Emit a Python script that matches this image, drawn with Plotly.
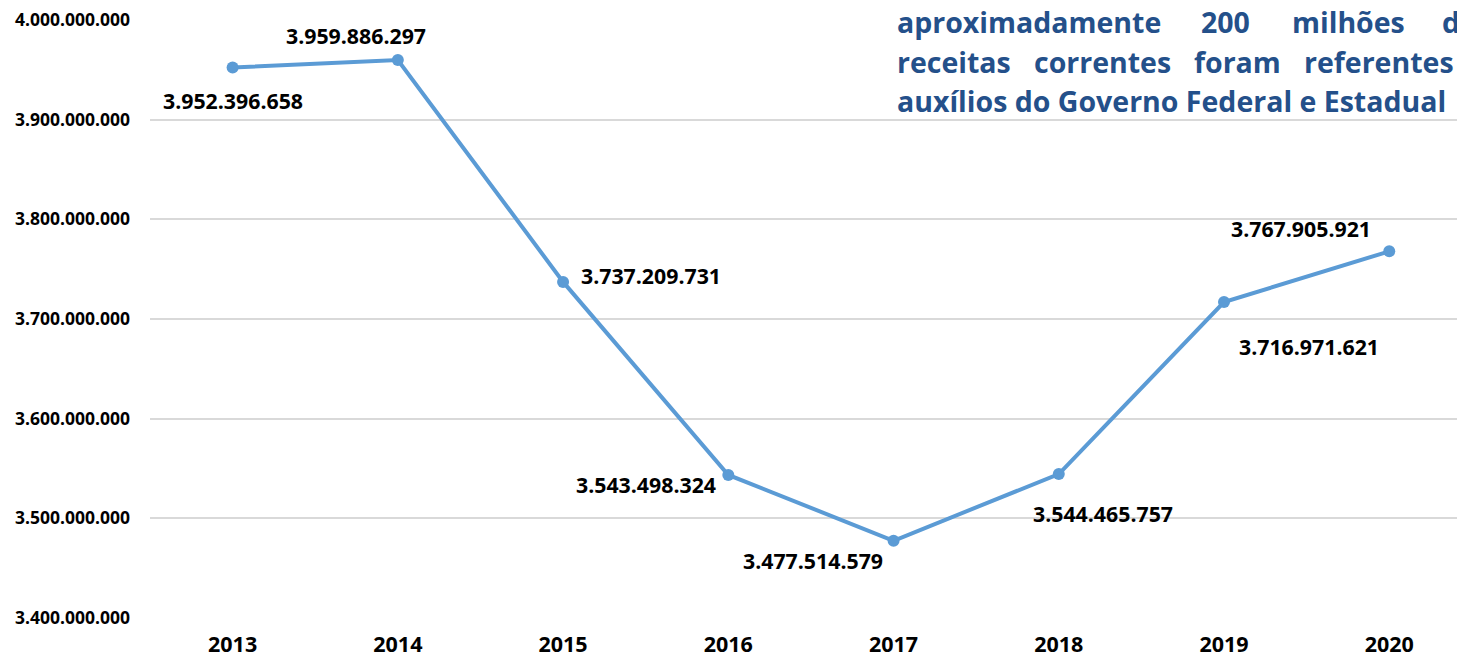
import plotly.graph_objects as go

anos = ["2013", "2014", "2015", "2016", "2017", "2018", "2019", "2020"]
receitas = [3952396658, 3959886297, 3737209731, 3543498324,
            3477514579, 3544465757, 3716971621, 3767905921]
rotulos = ["3.952.396.658", "3.959.886.297", "3.737.209.731", "3.543.498.324",
           "3.477.514.579", "3.544.465.757", "3.716.971.621", "3.767.905.921"]
y_ticks = [3400000000, 3500000000, 3600000000, 3700000000,
           3800000000, 3900000000, 4000000000]
y_tick_labels = ["3.400.000.000", "3.500.000.000", "3.600.000.000", "3.700.000.000",
                 "3.800.000.000", "3.900.000.000", "4.000.000.000"]

# where each value label sits relative to its point (px)
label_shift = [(0, -33), (-42, 24), (88, 6), (-82, -10),
               (-81, -20), (44, -39), (85, -44), (-88, 23)]

W, H = 1457, 660
ML, MR, MT, MB = 150, 0, 20, 42
FONT = "'Open Sans', sans-serif"
AZUL = "#5B9BD5"
AZUL_TEXTO = "#24508A"

fig = go.Figure()
fig.add_trace(go.Scatter(
    x=list(range(len(anos))), y=receitas, mode="lines+markers",
    line=dict(color=AZUL, width=4),
    marker=dict(color=AZUL, size=12),
    showlegend=False, hoverinfo="skip",
))

for i, (val, txt, (dx, dy)) in enumerate(zip(receitas, rotulos, label_shift)):
    fig.add_annotation(x=i, y=val, xref="x", yref="y", text=txt,
                       showarrow=False, xshift=dx, yshift=dy,
                       font=dict(family=FONT, size=21.3, color="black", weight="bold"))


def px(x):
    return (x - ML) / (W - ML - MR)


def py(y):
    return 1 - (y - MT) / (H - MT - MB)


# texto justificado no canto superior direito (cortado na borda, como no original)
linhas = [
    [("aproximadamente", 895), ("200", 1199), ("milhões", 1290), ("de", 1440)],
    [("receitas", 895), ("correntes", 1032), ("foram", 1192), ("referentes", 1302)],
    [("auxílios do Governo Federal e Estadual", 895)],
]
linha_y = [22, 62, 101]
for palavras, yy in zip(linhas, linha_y):
    for palavra, xx in palavras:
        fig.add_annotation(x=px(xx), y=py(yy), xref="paper", yref="paper",
                           text=palavra, showarrow=False, xanchor="left", yanchor="middle",
                           font=dict(family=FONT, size=28.5, color=AZUL_TEXTO, weight="bold"))

fig.update_layout(
    width=W, height=H,
    margin=dict(l=ML, r=MR, t=MT, b=MB),
    paper_bgcolor="white", plot_bgcolor="white",
    xaxis=dict(range=[-0.5, 7.41], tickvals=list(range(len(anos))), ticktext=anos,
               showgrid=False, showline=False, zeroline=False, automargin=False,
               ticks="", ticklabelstandoff=11,
               tickfont=dict(family=FONT, size=21.5, color="black", weight="bold")),
    yaxis=dict(range=[3400000000, 4000000000], tickvals=y_ticks, ticktext=y_tick_labels,
               showgrid=True, gridcolor="#D9D9D9", gridwidth=1.5, zeroline=False,
               showline=False, automargin=False, ticks="", ticklabelstandoff=19,
               tickfont=dict(family=FONT, size=17.5, color="black", weight="bold")),
)

fig.write_html("out.html", config={"displayModeBar": False},
               post_script="document.body.style.margin='0';")
